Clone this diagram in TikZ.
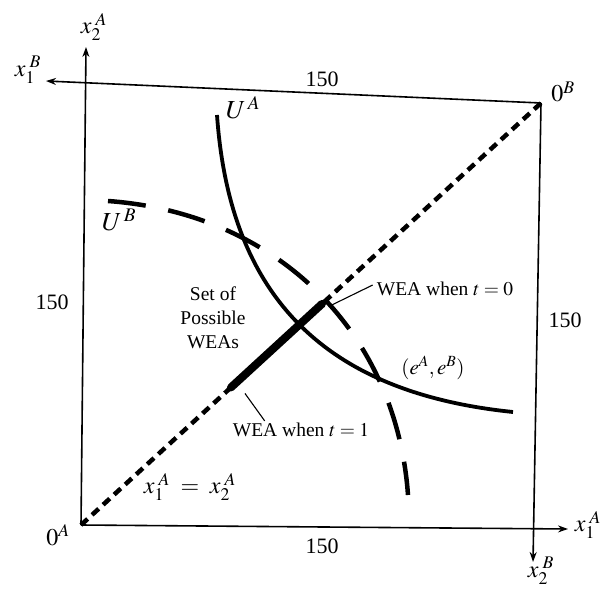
\documentclass[tikz,border=0pt]{standalone}
\usepackage{mathptmx}
\usepackage{fontspec}
\setmainfont{Liberation Serif}
\usetikzlibrary{arrows.meta,calc}

\begin{document}
\begin{tikzpicture}[x=1pt,y=-1pt,
    axis/.style={line width=1.6pt, -{Stealth[length=10pt,width=7pt]}},
    curveA/.style={line width=3.8pt},
    curveB/.style={line width=4.5pt, dash pattern=on 38pt off 23pt},
    diag/.style={line width=4.5pt, dash pattern=on 9pt off 6pt},
    core/.style={line width=8pt, line cap=round},
    lead/.style={line width=1.1pt},
    num/.style={font=\fontsize{22}{24}\selectfont, inner sep=0pt},
    note/.style={font=\fontsize{19.5}{24}\selectfont, inner sep=0pt, align=center},
    axlab/.style={font=\fontsize{24}{26}\selectfont, inner sep=0pt},
    ulab/.style={font=\fontsize{26}{28}\selectfont, inner sep=0pt}
]
\useasboundingbox (0,0) rectangle (604,588);

% Box corners and axis ends
\coordinate (OA) at (81,525);
\coordinate (OB) at (541,103);
\coordinate (x2Aend) at (86,47);
\coordinate (x1Bend) at (46,81);
\coordinate (x1Aend) at (568,529);
\coordinate (x2Bend) at (533,562);

% Axes
\draw[axis] (OA) -- (x2Aend);
\draw[axis] (OA) -- (x1Aend);
\draw[axis] (OB) -- (x1Bend);
\draw[axis] (OB) -- (x2Bend);

% Axis labels
\node[axlab] (lx2A) at (94,27) {$x_{2}^{\,\,A}$};
\node[axlab] (lx1B) at (28,70) {$x_{1}^{\,\,B}$};
\node[axlab] (lx1A) at (588,525) {$x_{1}^{\,\,A}$};
\node[axlab] (lx2B) at (541,571) {$x_{2}^{\,\,B}$};
\node[axlab] (l0A) at (58,535) {$0^A$};
\node[axlab] (l0B) at (563,92) {$0^B$};

% Lengths
\node[num] (ntop) at (322,79) {150};
\node[num] (nbot) at (322,546) {150};
\node[num] (nleft) at (52,302) {150};
\node[num] (nright) at (565,320) {150};

% Diagonal and set of WEAs
\draw[diag] (OA) -- (OB);
\coordinate (w1) at ($(OA)!0.326!(OB)$);
\coordinate (w0) at ($(OA)!0.524!(OB)$);
\draw[core] (w1) -- (w0);

% Indifference curves
\coordinate (UAtop) at (217,115);
\coordinate (UAend) at (513,412);
\coordinate (UBtop) at (108,201);
\coordinate (UBend) at (408,495);
\draw[curveA] (UAtop) .. controls (230,300) and (328,393) .. (UAend);
\draw[curveB] (UBtop) .. controls (274,213) and (396,329) .. (UBend);
\node[ulab] (lUA) at (243,108) {$U^{\,A}$};
\node[ulab] (lUB) at (119,220) {$U^{\,B}$};

% Labels
\node[note] (set) at (213,318) {Set of\\Possible\\WEAs};
\node[note] (wea0) at (445,289) {WEA when $t = 0$};
\node[note] (wea1) at (301,430) {WEA when $t = 1$};
\node[note, font=\fontsize{21}{24}\selectfont] (eAB) at (433,368) {$(e^A,e^B)$};
\node[axlab] (ldiag) at (190,487) {$x_{1}^{\,\,A}\;=\;x_{2}^{\,\,A}$};
\draw[lead] ($(wea0.west)+(-4,-4)$) -- ($(w0)+(10,1)$);
\draw[lead] ($(wea1.north west)+(32,-2)$) -- ($(w1)+(14,6)$);

\end{tikzpicture}
\end{document}
